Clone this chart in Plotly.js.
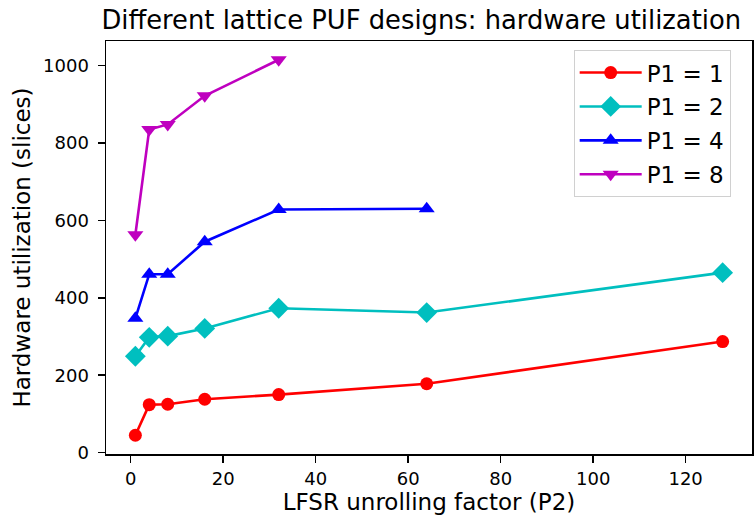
<!DOCTYPE html>
<html>
<head>
<meta charset="utf-8">
<script src="https://cdn.plot.ly/plotly-3.0.1.min.js"></script>
<style>html,body{margin:0;padding:0;background:#fff;}</style>
</head>
<body>
<div id="chart" style="width:755px;height:516px;"></div>
<script>
const p2_1 = [1, 4, 8, 16, 32, 64, 128];
const p1_1 = [45, 124, 125, 138, 150, 178, 287];
const p2_2 = [1, 4, 8, 16, 32, 64, 128];
const p1_2 = [249, 298, 301, 321, 373, 362, 465];
const p2_4 = [1, 4, 8, 16, 32, 64];
const p1_4 = [347, 461, 461, 545, 628, 630];
const p2_8 = [1, 4, 8, 16, 32];
const p1_8 = [563, 835, 848, 922, 1015];
const seriesNames = ["P1 = 1", "P1 = 2", "P1 = 4", "P1 = 8"];
const xTicks = [0, 20, 40, 60, 80, 100, 120];
const yTicks = [0, 200, 400, 600, 800, 1000];

const font = "DejaVu Sans, sans-serif";
function tr(x, y, name, color, symbol, size, g) {
  return {x: x, y: y, name: name, type: 'scatter', mode: 'lines+markers',
    legendgroup: g,
    line: {color: color, width: 2.6},
    marker: {color: color, symbol: symbol, size: size}};
}
const data = [
  tr(p2_1, p1_1, seriesNames[0], '#ff0000', 'circle', 13, 'a'),
  tr(p2_2, p1_2, seriesNames[1], '#00bfbf', 'diamond', 16, 'b'),
  tr(p2_4, p1_4, seriesNames[2], '#0000ff', 'triangle-up', 14, 'c'),
  tr(p2_8, p1_8, seriesNames[3], '#bf00bf', 'triangle-down', 14, 'd')
];
const layout = {
  width: 755, height: 516,
  margin: {l: 106, r: 3, t: 41, b: 62},
  paper_bgcolor: '#fff', plot_bgcolor: '#fff',
  font: {family: font, color: '#000', size: 18},
  title: {text: 'Different lattice PUF designs: hardware utilization', font: {family: font, size: 25.8, color: '#000'},
    x: 0.488, xref: 'paper', xanchor: 'center', y: 1 - 20/516, yref: 'container', yanchor: 'middle'},
  xaxis: {range: [-5.35, 134.35], tickvals: xTicks, ticktext: xTicks.map(String), showgrid: false, zeroline: false,
    showline: true, linecolor: '#000', linewidth: 1.5, mirror: true, ticks: 'outside', ticklen: 7, tickwidth: 1.5, tickcolor: '#000',
    tickfont: {size: 18, family: font}, ticklabelstandoff: 1,
    title: {text: 'LFSR unrolling factor (P2)', font: {size: 23, family: font}, standoff: 4}},
  yaxis: {range: [-3.5, 1063.5], tickvals: yTicks, ticktext: yTicks.map(String), showgrid: false, zeroline: false,
    showline: true, linecolor: '#000', linewidth: 1.5, mirror: true, ticks: 'outside', ticklen: 7, tickwidth: 1.5, tickcolor: '#000',
    tickfont: {size: 18, family: font}, ticklabelstandoff: 5,
    title: {text: 'Hardware utilization (slices)', font: {size: 23, family: font}, standoff: 6}},
  showlegend: true,
  legend: {x: 0.967, xanchor: 'right', y: 0.978, yanchor: 'top', bgcolor: '#fff', bordercolor: '#d0d0d0', borderwidth: 1,
    font: {size: 23, family: font}, tracegroupgap: 1, itemwidth: 62}
};
Plotly.newPlot('chart', data, layout, {displayModeBar: false, staticPlot: true});
</script>
</body>
</html>
